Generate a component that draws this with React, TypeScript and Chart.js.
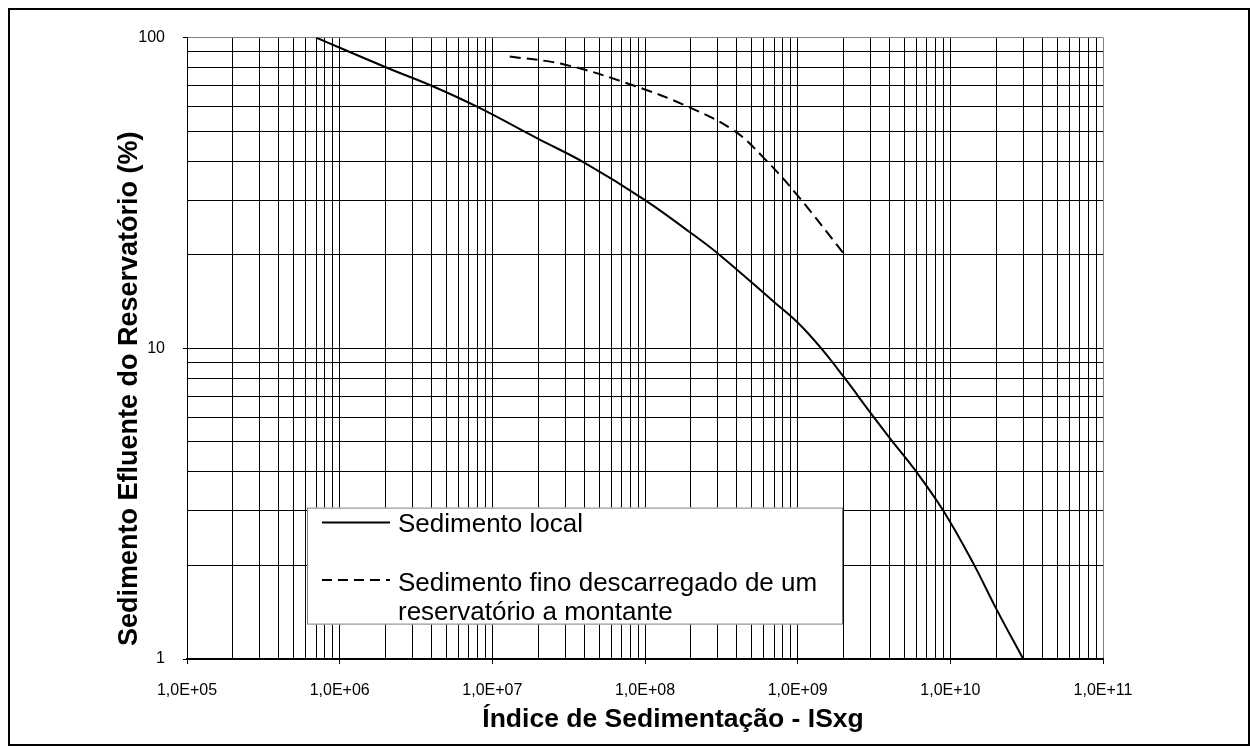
import React, { useEffect, useRef } from "react";
import { Chart, registerables } from "chart.js";

Chart.register(...registerables);

// ---- data ----
const localX = [7e5, 2e6, 4e6, 8e6, 2e7, 4e7, 1e8, 2e8, 3e8, 7e8, 1e9, 1.4e9, 2e9, 3e9, 4e9, 6e9, 9e9, 1.4e10, 2e10, 3e10];
const localY = [100, 80.3, 70, 59.8, 47.2, 39.6, 30, 23.5, 20.2, 14.1, 12.1, 10.1, 8.1, 6.2, 5.15, 4.0, 3.0, 2.05, 1.45, 1.0];

const fineX = [1.3e7, 3e7, 8.5e7, 1.9e8, 3.8e8, 6e8, 1e9, 2e9];
const fineY = [87, 81.8, 70, 60, 50.3, 41, 31, 20.2];

const seriesNames = ["Sedimento local", "Sedimento fino descarregado de um", "reservatório a montante"];
const xTitle = "Índice de Sedimentação - ISxg";
const yTitle = "Sedimento Efluente do Reservatório (%)";

const xDecades = [1e5, 1e6, 1e7, 1e8, 1e9, 1e10, 1e11];
const yDecades = [1, 10, 100];
const significands = [1, 2, 3, 4, 5, 6, 7, 8, 9];

const FONT = "'Liberation Sans', Arial, Helvetica, sans-serif";

function gridValues(decades: number[]) {
  const out: number[] = [];
  for (let i = 0; i < decades.length - 1; i++) {
    for (const s of significands) out.push(s * decades[i]);
  }
  out.push(decades[decades.length - 1]);
  return out;
}

function isDecade(v: number) {
  const l = Math.log10(v);
  return Math.abs(l - Math.round(l)) < 1e-9;
}

function fmtX(v: number) {
  const e = Math.round(Math.log10(v));
  return "1,0E+" + String(e).padStart(2, "0");
}

const overlayPlugin = {
  id: "overlay",
  afterDraw(chart: any) {
    const { ctx, chartArea: a } = chart;
    ctx.save();
    ctx.fillStyle = "#000";
    // X title
    ctx.font = `bold 26.5px ${FONT}`;
    ctx.textAlign = "center";
    ctx.textBaseline = "alphabetic";
    ctx.fillText(xTitle, a.left + a.width * 0.5306, a.bottom + 68);
    // Y title
    ctx.save();
    ctx.font = `bold 27px ${FONT}`;
    ctx.translate(a.left - 50, a.top + a.height * 0.565);
    ctx.rotate(-Math.PI / 2);
    ctx.fillText(yTitle, 0, 0);
    ctx.restore();

    // Legend box
    const lx = a.left + 120;
    const ly = a.top + 470;
    const lw = 536;
    const lh = 117;
    ctx.fillStyle = "#fff";
    ctx.fillRect(lx, ly, lw, lh);
    ctx.strokeStyle = "#808080";
    ctx.lineWidth = 1;
    ctx.strokeRect(lx + 0.5, ly + 0.5, lw - 1, lh - 1);

    ctx.strokeStyle = "#000";
    ctx.lineWidth = 2;
    ctx.setLineDash([]);
    ctx.beginPath();
    ctx.moveTo(lx + 15, ly + 15);
    ctx.lineTo(lx + 83, ly + 15);
    ctx.stroke();

    ctx.setLineDash([10, 6]);
    ctx.beginPath();
    ctx.moveTo(lx + 15, ly + 72.5);
    ctx.lineTo(lx + 83, ly + 72.5);
    ctx.stroke();
    ctx.setLineDash([]);

    ctx.fillStyle = "#000";
    ctx.font = `26px ${FONT}`;
    ctx.textAlign = "left";
    ctx.textBaseline = "alphabetic";
    ctx.fillText(seriesNames[0], lx + 91, ly + 24.7);
    ctx.fillText(seriesNames[1], lx + 91, ly + 83);
    ctx.fillText(seriesNames[2], lx + 91, ly + 112);
    ctx.restore();
  },
};

export default function App() {
  const ref = useRef<HTMLCanvasElement | null>(null);

  useEffect(() => {
    if (!ref.current) return;
    Chart.defaults.font.family = FONT;
    Chart.defaults.color = "#000";
    const xGrid = gridValues(xDecades);
    const yGrid = gridValues(yDecades);

    const chart = new Chart(ref.current, {
      type: "scatter",
      data: {
        datasets: [
          {
            label: seriesNames[0],
            data: localX.map((x, i) => ({ x, y: localY[i] })),
            showLine: true,
            borderColor: "#000",
            borderWidth: 2,
            pointRadius: 0,
            tension: 0.4,
          },
          {
            label: seriesNames[1] + " " + seriesNames[2],
            data: fineX.map((x, i) => ({ x, y: fineY[i] })),
            showLine: true,
            borderColor: "#000",
            borderWidth: 2,
            borderDash: [11, 6],
            pointRadius: 0,
            tension: 0.4,
          },
        ],
      },
      options: {
        animation: false,
        responsive: false,
        devicePixelRatio: 1,
        layout: { padding: { left: 0, top: 27, right: 145, bottom: 0 } },
        plugins: {
          legend: { display: false },
          tooltip: { enabled: false },
          title: { display: false },
        },
        scales: {
          x: {
            type: "logarithmic",
            min: 1e5,
            max: 1e11,
            afterBuildTicks: (scale: any) => {
              scale.ticks = xGrid.map((v) => ({ value: v, major: isDecade(v) }));
            },
            afterFit: (scale: any) => {
              scale.height = 85;
            },
            ticks: {
              autoSkip: false,
              maxRotation: 0,
              minRotation: 0,
              padding: 17,
              font: { size: 16 },
              color: "#000",
              callback: (v: any) => (isDecade(Number(v)) ? fmtX(Number(v)) : ""),
            },
            grid: {
              color: (c: any) => (c.tick && c.tick.value >= 1e11 ? "#808080" : "#000"),
              lineWidth: 1,
              drawTicks: true,
              tickLength: 5,
              tickColor: (c: any) => (c.tick && isDecade(c.tick.value) ? "#000" : "rgba(0,0,0,0)"),
            },
            border: { display: true, color: "#000", width: 2 },
          },
          y: {
            type: "logarithmic",
            min: 1,
            max: 100,
            afterBuildTicks: (scale: any) => {
              scale.ticks = yGrid.map((v) => ({ value: v, major: isDecade(v) }));
            },
            afterFit: (scale: any) => {
              scale.width = 177;
            },
            ticks: {
              autoSkip: false,
              padding: 18,
              font: { size: 16 },
              color: "#000",
              callback: (v: any) => (isDecade(Number(v)) ? String(Math.round(Number(v))) : ""),
            },
            grid: {
              color: (c: any) => (c.tick && c.tick.value >= 100 ? "#808080" : "#000"),
              lineWidth: 1,
              drawTicks: true,
              tickLength: 4,
              tickColor: (c: any) => (c.tick && isDecade(c.tick.value) ? "#000" : "rgba(0,0,0,0)"),
            },
            border: { display: true, color: "#000", width: 1 },
          },
        },
      },
      plugins: [overlayPlugin],
    } as any);

    return () => chart.destroy();
  }, []);

  return (
    <div
      style={{
        position: "absolute",
        left: 8,
        top: 8,
        width: 1242,
        height: 738,
        border: "2px solid #000",
        boxSizing: "border-box",
        background: "#fff",
      }}
    >
      <canvas
        ref={ref}
        width={1238}
        height={734}
        style={{ position: "absolute", left: 0, top: 0, width: 1238, height: 734, display: "block" }}
      />
    </div>
  );
}
